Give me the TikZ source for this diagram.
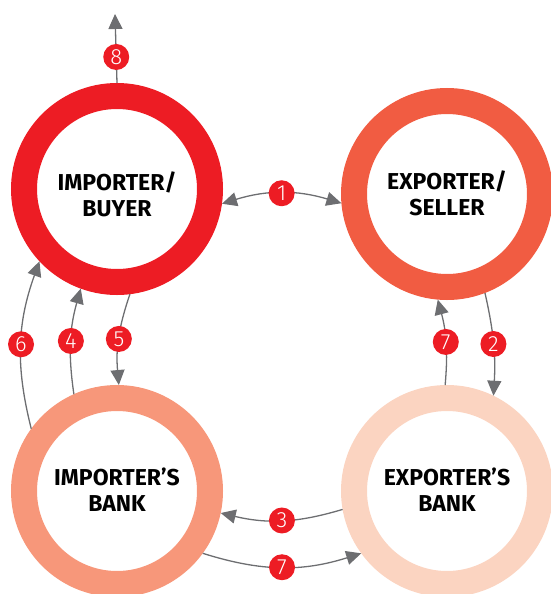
\documentclass[tikz,border=0pt]{standalone}
\usepackage{fontspec}
\setmainfont{Fira Sans}
\newfontfamily\badgefont{Fira Sans}[UprightFont=* Light]
\usetikzlibrary{arrows.meta}

\definecolor{buyerred}{RGB}{237,28,36}
\definecolor{sellerorange}{RGB}{241,92,66}
\definecolor{ibanksalmon}{RGB}{247,151,122}
\definecolor{ebankpeach}{RGB}{251,212,193}
\definecolor{linkgray}{RGB}{109,110,113}

\tikzset{
  ring/.style={circle, draw=#1, minimum size=186pt, line width=26pt,
    outer sep=13pt, inner sep=0pt},
  ringtext/.style={align=center, inner sep=0pt,
    font=\bfseries\fontsize{23}{26}\selectfont},
  badge/.style={circle, fill=buyerred, text=white, minimum size=26pt,
    inner sep=0pt, font=\badgefont\fontsize{22}{22}\selectfont},
  link/.style={draw=linkgray, line width=1.3pt, -{Triangle[length=15pt,width=14pt]}},
  dlink/.style={draw=linkgray, line width=1.3pt,
    {Triangle[length=15pt,width=14pt]}-{Triangle[length=15pt,width=14pt]}},
}

\begin{document}
\begin{tikzpicture}[x=1pt,y=1pt]
  \useasboundingbox (0,0) rectangle (550,-594);

  % the four parties
  \node[ring=buyerred]     (buyer)  at (117,-189) {};
  \node[ring=sellerorange] (seller) at (447,-194) {};
  \node[ring=ibanksalmon]  (ibank)  at (117,-491) {};
  \node[ring=ebankpeach]   (ebank)  at (447,-491) {};

  \node[ringtext] (buyertext)  at (117,-194) {IMPORTER/\\BUYER};
  \node[ringtext] (sellertext) at (447,-193) {EXPORTER/\\SELLER};
  \node[ringtext] (ibanktext)  at (117,-490) {IMPORTER’S\\BANK};
  \node[ringtext] (ebanktext)  at (447,-490) {EXPORTER’S\\BANK};

  \coordinate (out) at (115,-14);

  % numbered steps
  \draw[link] (buyer.90) -- node[badge, pos=0.377] {8} (out);
  \draw[dlink] (buyer.-8.6) to[bend left=17] node[badge] {1} (seller.185);
  \draw[link] (seller.-69.5) to[bend left=8] node[badge] {2} (ebank.64);
  \draw[link] (ebank.190) to[bend left=15] node[badge] {3} (ibank.-12.5);
  \draw[link] (ibank.114.6) to[bend left=12] node[badge] {4} (buyer.250);
  \draw[link] (buyer.-83) to[bend right=12] node[badge] {5} (ibank.89);
  \draw[link] (ibank.144.6) to[bend left=17] node[badge] {6} (buyer.223.5);
  \draw[link] (ebank.91) to[bend right=10] node[badge] {7} (seller.265);
  \draw[link] (ibank.-36.7) to[bend right=17.5] node[badge] {7} (ebank.216);
\end{tikzpicture}
\end{document}
